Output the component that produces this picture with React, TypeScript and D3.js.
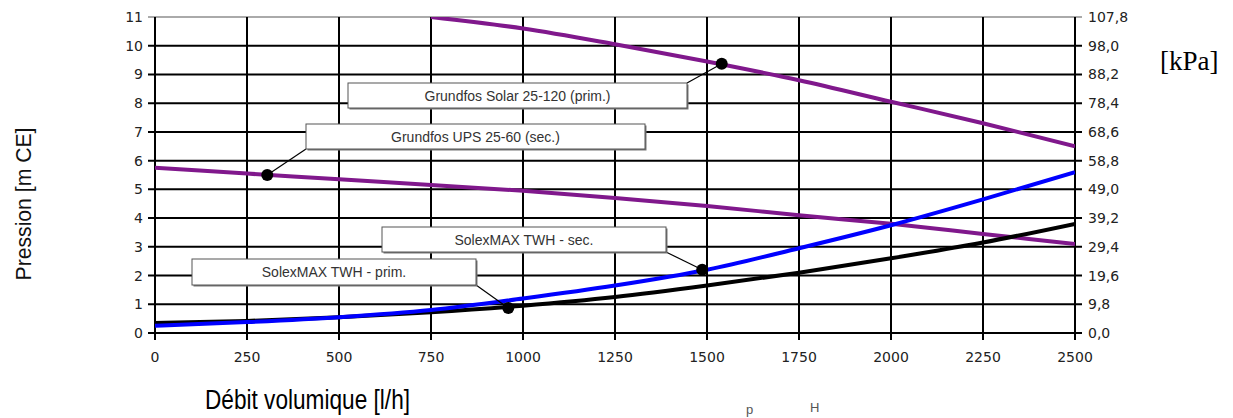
import * as d3 from "d3";
import { useEffect, useRef } from "react";

// débit volumique [l/h]
const flows = [0, 250, 500, 750, 1000, 1250, 1500, 1750, 2000, 2250, 2500];
const solexPrim = [0.35, 0.42, 0.55, 0.72, 0.95, 1.25, 1.65, 2.1, 2.6, 3.15, 3.8];
const solexSec = [0.25, 0.38, 0.55, 0.8, 1.2, 1.65, 2.2, 2.95, 3.75, 4.65, 5.6];
const upsSec = [5.75, 5.55, 5.35, 5.15, 4.95, 4.7, 4.42, 4.1, 3.8, 3.45, 3.1];
const solarFlows = [750, 1000, 1250, 1500, 1750, 2000, 2250, 2500];
const solarPrim = [11.0, 10.6, 10.05, 9.45, 8.8, 8.05, 7.3, 6.5];

const yTicks = d3.range(0, 12);
const kpaLabels = ["0,0", "9,8", "19,6", "29,4", "39,2", "49,0", "58,8", "68,6", "78,4", "88,2", "98,0", "107,8"];

// annotation: label, marker point (flow, m CE)
const notes = [
  { label: "Grundfos Solar 25-120 (prim.)", flow: 1540, h: 9.37 },
  { label: "Grundfos UPS 25-60 (sec.)", flow: 305, h: 5.5 },
  { label: "SolexMAX TWH - sec.", flow: 1487, h: 2.2 },
  { label: "SolexMAX TWH - prim.", flow: 960, h: 0.87 },
];
// box rectangles and leader corner
const boxes = [
  { x: 348, y: 83, w: 339, h: 25, cx: 687, cy: 83 },
  { x: 306, y: 124, w: 339, h: 25, cx: 306, cy: 149 },
  { x: 382, y: 227, w: 284, h: 25, cx: 666, cy: 252 },
  { x: 192, y: 259, w: 284, h: 26, cx: 476, cy: 285 },
];

const PURPLE = "#80188c";
const TICK_FONT = "DejaVu Sans, Verdana, sans-serif";
const SANS = "Liberation Sans, Arial, sans-serif";

function App() {
  const ref = useRef<SVGSVGElement>(null);

  useEffect(() => {
    const svg = d3.select(ref.current);
    svg.selectAll("*").remove();

    const x = d3.scaleLinear().domain([0, 2500]).range([155, 1075]);
    const y = d3.scaleLinear().domain([0, 11]).range([333, 17]);

    const g = svg.append("g");

    // grid
    g.selectAll(".hg")
      .data(yTicks)
      .join("line")
      .attr("x1", 148)
      .attr("x2", 1082)
      .attr("y1", (d) => y(d))
      .attr("y2", (d) => y(d))
      .attr("stroke", (d) => (d === 11 ? "#aaa" : "#000"))
      .attr("stroke-width", 2);
    g.selectAll(".vg")
      .data(flows)
      .join("line")
      .attr("x1", (d) => x(d))
      .attr("x2", (d) => x(d))
      .attr("y1", y(11))
      .attr("y2", y(0) + 7)
      .attr("stroke", "#000")
      .attr("stroke-width", 2);

    // tick labels
    g.selectAll(".yl")
      .data(yTicks)
      .join("text")
      .attr("x", 143)
      .attr("y", (d) => y(d) + 5)
      .attr("text-anchor", "end")
      .attr("font-family", TICK_FONT)
      .attr("font-size", 14)
      .attr("fill", "#222")
      .text((d) => d);
    g.selectAll(".yr")
      .data(yTicks)
      .join("text")
      .attr("x", 1088)
      .attr("y", (d) => y(d) + 5)
      .attr("font-family", TICK_FONT)
      .attr("font-size", 14)
      .attr("fill", "#222")
      .text((d) => kpaLabels[d]);
    g.selectAll(".xl")
      .data(flows)
      .join("text")
      .attr("x", (d) => x(d))
      .attr("y", 362)
      .attr("text-anchor", "middle")
      .attr("font-family", TICK_FONT)
      .attr("font-size", 14)
      .attr("fill", "#222")
      .text((d) => d);

    // curves
    svg.append("defs").append("clipPath").attr("id", "plot")
      .append("rect").attr("x", 155).attr("y", y(11)).attr("width", 920).attr("height", y(0) - y(11));

    const line = d3.line<[number, number]>()
      .x((d) => x(d[0]))
      .y((d) => y(d[1]))
      .curve(d3.curveMonotoneX);

    const curves = [
      { xs: flows, ys: upsSec, color: PURPLE, w: 4 },
      { xs: solarFlows, ys: solarPrim, color: PURPLE, w: 4 },
      { xs: flows, ys: solexPrim, color: "#000", w: 4 },
      { xs: flows, ys: solexSec, color: "#0000ff", w: 4 },
    ];
    const cg = g.append("g").attr("clip-path", "url(#plot)");
    curves.forEach((c) => {
      cg.append("path")
        .attr("d", line(c.xs.map((v, i) => [v, c.ys[i]] as [number, number])))
        .attr("fill", "none")
        .attr("stroke", c.color)
        .attr("stroke-width", c.w);
    });

    // annotations
    notes.forEach((n, i) => {
      const b = boxes[i];
      g.append("line")
        .attr("x1", b.cx)
        .attr("y1", b.cy)
        .attr("x2", x(n.flow))
        .attr("y2", y(n.h))
        .attr("stroke", "#000")
        .attr("stroke-width", 1.2);
      g.append("rect")
        .attr("x", b.x + 1.5)
        .attr("y", b.y + 1.5)
        .attr("width", b.w)
        .attr("height", b.h)
        .attr("fill", "#777");
      g.append("rect")
        .attr("x", b.x)
        .attr("y", b.y)
        .attr("width", b.w)
        .attr("height", b.h)
        .attr("fill", "#fff")
        .attr("stroke", "#555")
        .attr("stroke-width", 1);
      g.append("text")
        .attr("x", b.x + b.w / 2)
        .attr("y", b.y + b.h / 2 + 5)
        .attr("text-anchor", "middle")
        .attr("font-family", SANS)
        .attr("font-size", 14)
        .attr("fill", "#333")
        .text(n.label);
      g.append("circle")
        .attr("cx", x(n.flow))
        .attr("cy", y(n.h))
        .attr("r", 6)
        .attr("fill", "#000");
    });

    // axis titles
    g.append("text")
      .attr("transform", "translate(31,204) rotate(-90)")
      .attr("text-anchor", "middle")
      .attr("font-family", SANS)
      .attr("font-size", 22)
      .attr("textLength", 153)
      .attr("lengthAdjust", "spacingAndGlyphs")
      .attr("fill", "#111")
      .text("Pression [m CE]");
    g.append("text")
      .attr("x", 205)
      .attr("y", 409)
      .attr("font-family", SANS)
      .attr("font-size", 27)
      .attr("textLength", 205)
      .attr("lengthAdjust", "spacingAndGlyphs")
      .attr("fill", "#000")
      .text("Débit volumique [l/h]");
    g.append("text")
      .attr("x", 1160)
      .attr("y", 70)
      .attr("font-family", "Liberation Serif, Times New Roman, serif")
      .attr("font-size", 27)
      .attr("fill", "#000")
      .text("[kPa]");
    g.append("text")
      .attr("x", 746)
      .attr("y", 414)
      .attr("font-family", SANS)
      .attr("font-size", 13)
      .attr("fill", "#555")
      .text("p");
    g.append("text")
      .attr("x", 810)
      .attr("y", 412)
      .attr("font-family", SANS)
      .attr("font-size", 13)
      .attr("fill", "#555")
      .text("H");
  }, []);

  return (
    <svg
      ref={ref}
      width={1233}
      height={418}
      style={{ position: "absolute", left: 0, top: 0, background: "#fff" }}
    />
  );
}

export default App;
